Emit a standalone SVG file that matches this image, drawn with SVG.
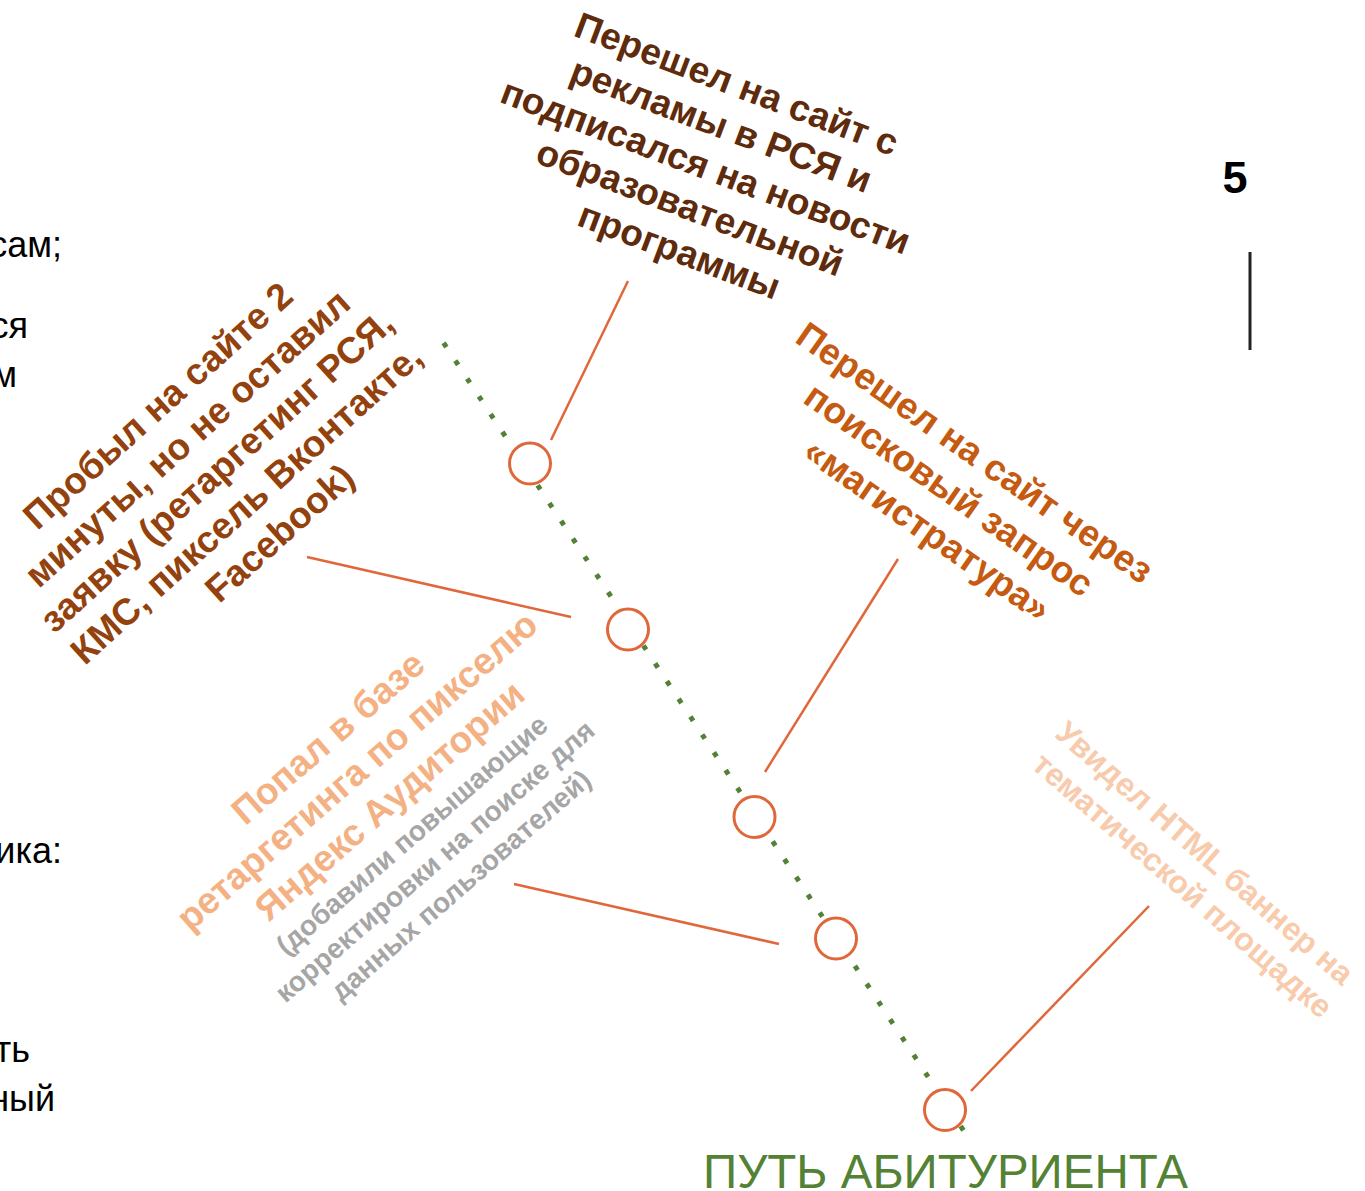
<svg xmlns="http://www.w3.org/2000/svg" width="1365" height="1191" viewBox="0 0 1365 1191">
<style>
  .bg { font-family: "Liberation Sans", Arial, sans-serif; font-size: 36px; fill: #000; text-anchor: end; }
  .lbl { font-family: "Liberation Sans", Arial, sans-serif; font-weight: bold; text-anchor: middle; }
  .conn { stroke: #e0673a; stroke-width: 2.5; fill: none; }
  .node { stroke: #e0673a; stroke-width: 3; fill: #fff; }
  .path { stroke: #538135; stroke-width: 5; stroke-dasharray: 5 16.33; fill: none; }
</style>
<rect width="1365" height="1191" fill="#fff"/>

<g id="background-text">
  <text class="bg" x="62" y="257">сам;</text>
  <text class="bg" x="28" y="338">ся</text>
  <text class="bg" x="17" y="387">м</text>
  <text class="bg" x="62" y="863">ика:</text>
  <text class="bg" x="30" y="1062">ть</text>
  <text class="bg" x="55" y="1111">ный</text>
</g>

<g id="page-number">
  <text x="1235" y="193" font-family="Liberation Sans, Arial, sans-serif" font-weight="bold" font-size="45" text-anchor="middle" fill="#000">5</text>
  <line x1="1250" y1="252" x2="1250" y2="350" stroke="#222" stroke-width="3"/>
</g>

<g id="connectors">
  <line class="path" x1="443.62" y1="342.91" x2="963.4" y2="1130.3"/>
  <line class="conn" x1="628" y1="281" x2="551" y2="440"/>
  <line class="conn" x1="307" y1="557" x2="571" y2="617"/>
  <line class="conn" x1="898" y1="559" x2="765" y2="772"/>
  <line class="conn" x1="514" y1="884" x2="779" y2="944"/>
  <line class="conn" x1="1149" y1="906" x2="971" y2="1091"/>
</g>

<g id="node1"><circle class="node" cx="530" cy="463.5" r="20.5"/></g>
<g id="node2"><circle class="node" cx="628" cy="629.5" r="20.5"/></g>
<g id="node3"><circle class="node" cx="754.5" cy="817" r="20.5"/></g>
<g id="node4"><circle class="node" cx="836" cy="938.5" r="20.5"/></g>
<g id="node5"><circle class="node" cx="945" cy="1110" r="20.5"/></g>

<g id="label-rsya" transform="translate(706,180) rotate(20.7)">
  <text class="lbl" font-size="37" fill="#5e2b0c">
    <tspan x="0" y="-88">Перешел на сайт с</tspan>
    <tspan x="0" y="-44">рекламы в РСЯ и</tspan>
    <tspan x="0" y="0">подписался на новости</tspan>
    <tspan x="0" y="44">образовательной</tspan>
    <tspan x="0" y="88">программы</tspan>
  </text>
</g>

<g id="label-retarget" transform="translate(229,477) rotate(-42)">
  <text class="lbl" font-size="37" fill="#93420e">
    <tspan x="0" y="-88">Пробыл на сайте 2</tspan>
    <tspan x="0" y="-44">минуты, но не оставил</tspan>
    <tspan x="0" y="0">заявку (ретаргетинг РСЯ,</tspan>
    <tspan x="0" y="44">КМС, пиксель Вконтакте,</tspan>
    <tspan x="0" y="88">Facebook)</tspan>
  </text>
</g>

<g id="label-search" transform="translate(946,503) rotate(35)">
  <text class="lbl" font-size="37" fill="#c55a11">
    <tspan x="0" y="-45">Перешел на сайт через</tspan>
    <tspan x="0" y="0">поисковый запрос</tspan>
    <tspan x="0" y="45">«магистратура»</tspan>
  </text>
</g>

<g id="label-yandex">
  <g transform="translate(369,777) rotate(-41)">
    <text class="lbl" font-size="37" fill="#f4b183">
      <tspan x="0" y="-44">Попал в базе</tspan>
      <tspan x="0" y="0">ретаргетинга по пикселю</tspan>
      <tspan x="0" y="44">Яндекс Аудитории</tspan>
    </text>
  </g>
  <g transform="translate(444,866) rotate(-41)">
    <text class="lbl" font-size="28" fill="#a6a6a6">
      <tspan x="0" y="-35">(добавили повышающие</tspan>
      <tspan x="0" y="0">корректировки на поиске для</tspan>
      <tspan x="0" y="35">данных пользователей)</tspan>
    </text>
  </g>
</g>

<g id="label-banner" transform="translate(1201,864) rotate(41)">
  <text class="lbl" font-size="32" fill="#f8cbad">
    <tspan x="0" y="0">Увидел HTML баннер на</tspan>
    <tspan x="0" y="39">тематической площадке</tspan>
  </text>
</g>

<g id="title">
  <text x="703" y="1188" font-family="Liberation Sans, Arial, sans-serif" font-size="47.5" fill="#548235">ПУТЬ АБИТУРИЕНТА</text>
</g>
</svg>
